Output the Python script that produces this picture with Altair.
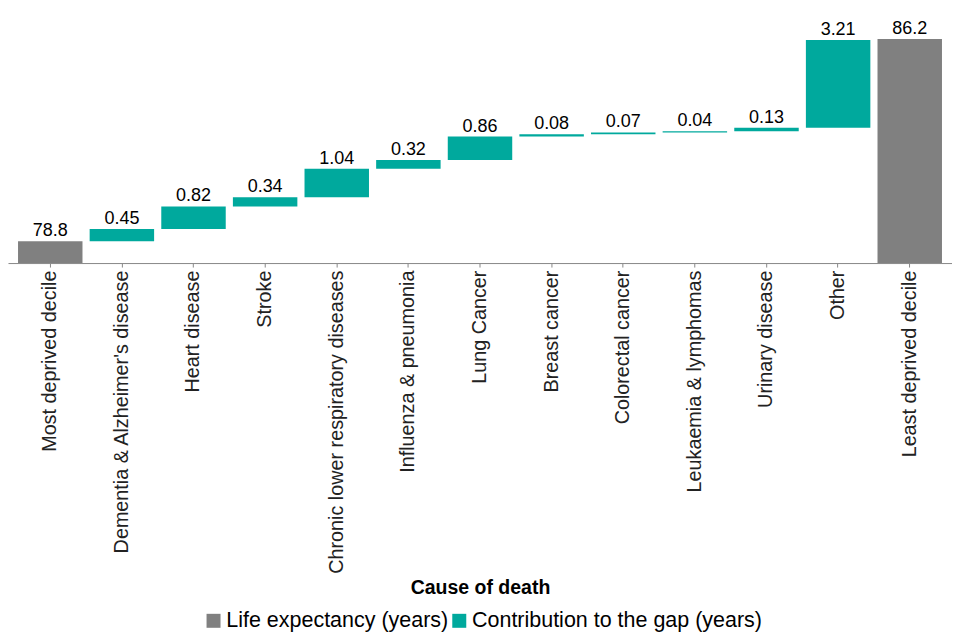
import altair as alt
import pandas as pd

categories = ["Most deprived decile", "Dementia & Alzheimer's disease", "Heart disease", "Stroke",
              "Chronic lower respiratory diseases", "Influenza & pneumonia", "Lung Cancer",
              "Breast cancer", "Colorectal cancer", "Leukaemia & lymphomas", "Urinary disease",
              "Other", "Least deprived decile"]
contributions = [None, 0.45, 0.82, 0.34, 1.04, 0.32, 0.86, 0.08, 0.07, 0.04, 0.13, 3.21, None]
start_total = 78.8
end_total = 86.2
series_names = ["Life expectancy (years)", "Contribution to the gap (years)"]
base = 78.0

rows = []
running = start_total
for i, (cat, c) in enumerate(zip(categories, contributions)):
    if i == 0:
        rows.append(dict(cat=cat, y0=base, y1=start_total, label=f"{start_total}", series=series_names[0]))
    elif i == len(categories) - 1:
        rows.append(dict(cat=cat, y0=base, y1=end_total, label=f"{end_total}", series=series_names[0]))
    else:
        rows.append(dict(cat=cat, y0=running, y1=running + c, label=f"{c:.2f}", series=series_names[1]))
        running += c
df = pd.DataFrame(rows)

FONT = "Liberation Sans"

x = alt.X("cat:N", sort=categories, title="Cause of death",
          scale=alt.Scale(paddingInner=0.1, paddingOuter=0.14),
          axis=alt.Axis(labelAngle=-90, labelFontSize=19.8, labelLimit=600, labelColor="#222222",
                        labelFont=FONT, titleFont=FONT, titleFontSize=19.5, titleFontWeight="bold",
                        titleColor="#000000", domainColor="#888888", tickColor="#888888",
                        tickSize=4, labelPadding=3, titleY=316, titleBaseline="top", grid=False))
y = alt.Y("y0:Q", scale=alt.Scale(domain=[78, 87.1], zero=False, nice=False), axis=None)

bars = alt.Chart(df).mark_bar().encode(
    x=x, y=y, y2="y1:Q",
    color=alt.Color("series:N", scale=alt.Scale(domain=series_names, range=["#808080", "#00A99D"]),
                    legend=alt.Legend(title=None, orient="none", legendX=195, legendY=596,
                                      direction="horizontal", symbolType="square", symbolSize=196,
                                      labelFontSize=21.5, labelFont=FONT, labelColor="#000000",
                                      labelLimit=600, columnPadding=0, labelOffset=2,
                                      symbolStrokeWidth=0))
)
text = alt.Chart(df).mark_text(baseline="bottom", dy=-1, fontSize=18, font=FONT, color="#000000").encode(
    x=alt.X("cat:N", sort=categories), y="y1:Q", text="label:N"
)

chart = (bars + text).properties(
    width=945, height=249, padding={"left": 0, "top": 6, "right": 0, "bottom": 0}
).configure_view(stroke=None).configure_axis(domainWidth=1)

chart.save("out.html", embed_options={"renderer": "svg", "actions": False})
